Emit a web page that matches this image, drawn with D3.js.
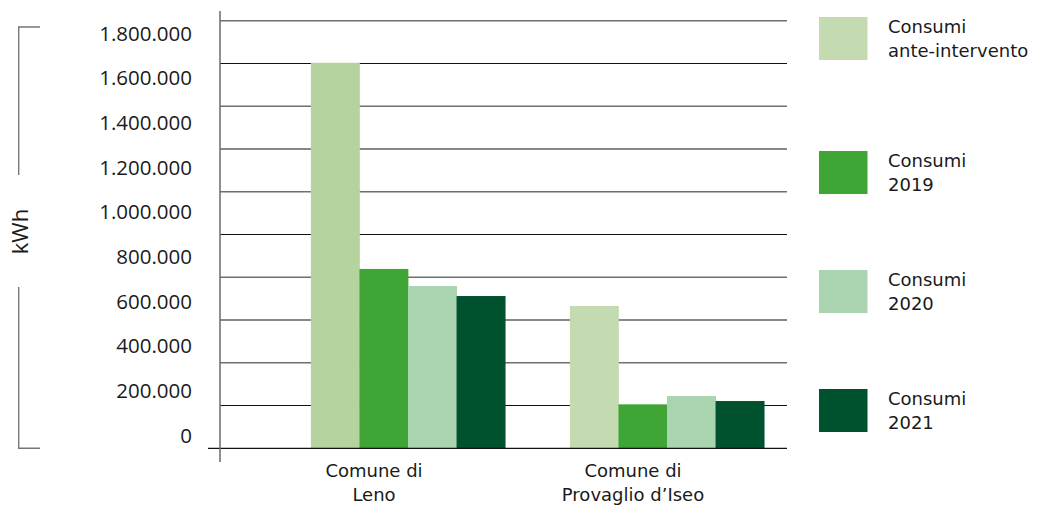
<!DOCTYPE html>
<html>
<head>
<meta charset="utf-8">
<script src="https://cdn.jsdelivr.net/npm/d3@7"></script>
<style>
  html, body { margin: 0; padding: 0; background: #fff; }
  svg { display: block; }
</style>
</head>
<body>
<svg id="chart" width="1037" height="508"></svg>
<script>
// Comuni on the x axis
const comuni = [["Comune di", "Leno"], ["Comune di", "Provaglio d’Iseo"]];

// Series (one bar per series in each group)
const series = [["Consumi", "ante-intervento"], ["Consumi", "2019"], ["Consumi", "2020"], ["Consumi", "2021"]];

// Consumption in kWh per series, one value per comune
const consumiAnte = [1623000, 599000];
const consumi2019 = [755000, 185000];
const consumi2020 = [683000, 220000];
const consumi2021 = [641000, 199000];

// Tick labels on the value axis
const tickValues = [0, 200000, 400000, 600000, 800000, 1000000, 1200000, 1400000, 1600000, 1800000];
const yMax = 1800000;

// Colours
const seriesColors = ["#c4dbb1", "#3fa535", "#aad4b0", "#00512e"];
const anteBarColors = ["#b5d39f", "#c4dbb1"];

const values = [consumiAnte, consumi2019, consumi2020, consumi2021];

const svg = d3.select("#chart");
svg.append("rect").attr("width", 1037).attr("height", 508).attr("fill", "#fff");

const plotLeft = 220, plotRight = 787;
const y = d3.scaleLinear().domain([0, yMax]).range([448.3, 20.7]);
const yLabel = d3.scaleLinear().domain([0, yMax]).range([442, 40]);

const x0 = d3.scaleBand().domain(d3.range(comuni.length)).range([278.5, 796.5])
  .paddingInner(0.25).paddingOuter(0.125);
const x1 = d3.scaleBand().domain(d3.range(series.length)).range([0, x0.bandwidth()]);

// Grid lines: ten equal steps, alternating tone
const gridVals = d3.range(1, 11).map(k => k * yMax / 10);
svg.append("g").selectAll("line").data(gridVals).join("line")
  .attr("x1", plotLeft).attr("x2", plotRight)
  .attr("y1", d => y(d)).attr("y2", d => y(d))
  .attr("stroke", (d, i) => (i + 1) % 2 === 0 ? "#6f6f6f" : "#111")
  .attr("stroke-width", (d, i) => (i + 1) % 2 === 0 ? 1.5 : 1.1);

// Bars
const groups = svg.append("g").selectAll("g").data(comuni).join("g")
  .attr("transform", (d, i) => `translate(${x0(i)},0)`);
groups.selectAll("rect")
  .data((d, ci) => series.map((s, si) => ({ si, ci, v: values[si][ci] })))
  .join("rect")
  .attr("x", d => x1(d.si))
  .attr("width", x1.bandwidth() + 0.4)
  .attr("y", d => y(d.v))
  .attr("height", d => y(0) - y(d.v))
  .attr("fill", d => d.si === 0 ? anteBarColors[d.ci] : seriesColors[d.si]);

// Baseline
svg.append("line").attr("x1", 208).attr("x2", plotRight)
  .attr("y1", y(0)).attr("y2", y(0)).attr("stroke", "#111").attr("stroke-width", 1.3);

// Vertical axis line
svg.append("line").attr("x1", plotLeft).attr("x2", plotLeft)
  .attr("y1", 11).attr("y2", 462).attr("stroke", "#6a6a6a").attr("stroke-width", 1.5);

// Value labels
const it = d3.formatLocale({ decimal: ",", thousands: ".", grouping: [3], currency: ["€", ""] });
const fmt = it.format(",");
const yAxis = svg.append("g").attr("transform", "translate(192,0)")
  .call(d3.axisLeft(yLabel).tickValues(tickValues).tickFormat(fmt).tickSize(0).tickPadding(0));
yAxis.select(".domain").remove();
yAxis.selectAll("text")
  .attr("dy", 0)
  .attr("font-family", "'Open Sans', sans-serif")
  .attr("font-size", 20.5)
  .attr("fill", "#1a1a1a");

// Unit label with bracket
svg.append("path")
  .attr("d", "M40,27H18.7V175M18.7,287V448.3H40")
  .attr("fill", "none").attr("stroke", "#777").attr("stroke-width", 1.4);
svg.append("text")
  .attr("transform", "translate(28,231.5) rotate(-90)")
  .attr("text-anchor", "middle")
  .attr("font-family", "'Open Sans', sans-serif")
  .attr("font-size", 22)
  .attr("fill", "#1a1a1a")
  .text("kWh");

// Category labels
const xAxis = svg.append("g").attr("transform", "translate(-34,0)");
xAxis.selectAll("text").data(comuni).join("text")
  .attr("x", (d, i) => x0(i) + x0.bandwidth() / 2)
  .attr("y", 476.5)
  .attr("text-anchor", "middle")
  .attr("font-family", "'DejaVu Sans', sans-serif")
  .attr("font-size", 18)
  .attr("fill", "#1a1a1a")
  .selectAll("tspan").data(d => d).join("tspan")
  .attr("x", function () { return d3.select(this.parentNode).attr("x"); })
  .attr("dy", (d, i) => i === 0 ? 0 : 24.5)
  .text(d => d);

// Legend
const legendY = [17, 151, 270, 389];
const legend = svg.append("g").selectAll("g").data(series).join("g")
  .attr("transform", (d, i) => `translate(819,${legendY[i]})`);
legend.append("rect").attr("width", 48.5).attr("height", 43)
  .attr("fill", (d, i) => seriesColors[i]);
legend.append("text")
  .attr("font-family", "'DejaVu Sans', sans-serif")
  .attr("font-size", 18)
  .attr("fill", "#1a1a1a")
  .selectAll("tspan").data(d => d).join("tspan")
  .attr("x", 69)
  .attr("y", (d, i) => i === 0 ? 15.7 : 40)
  .text(d => d);
</script>
</body>
</html>
